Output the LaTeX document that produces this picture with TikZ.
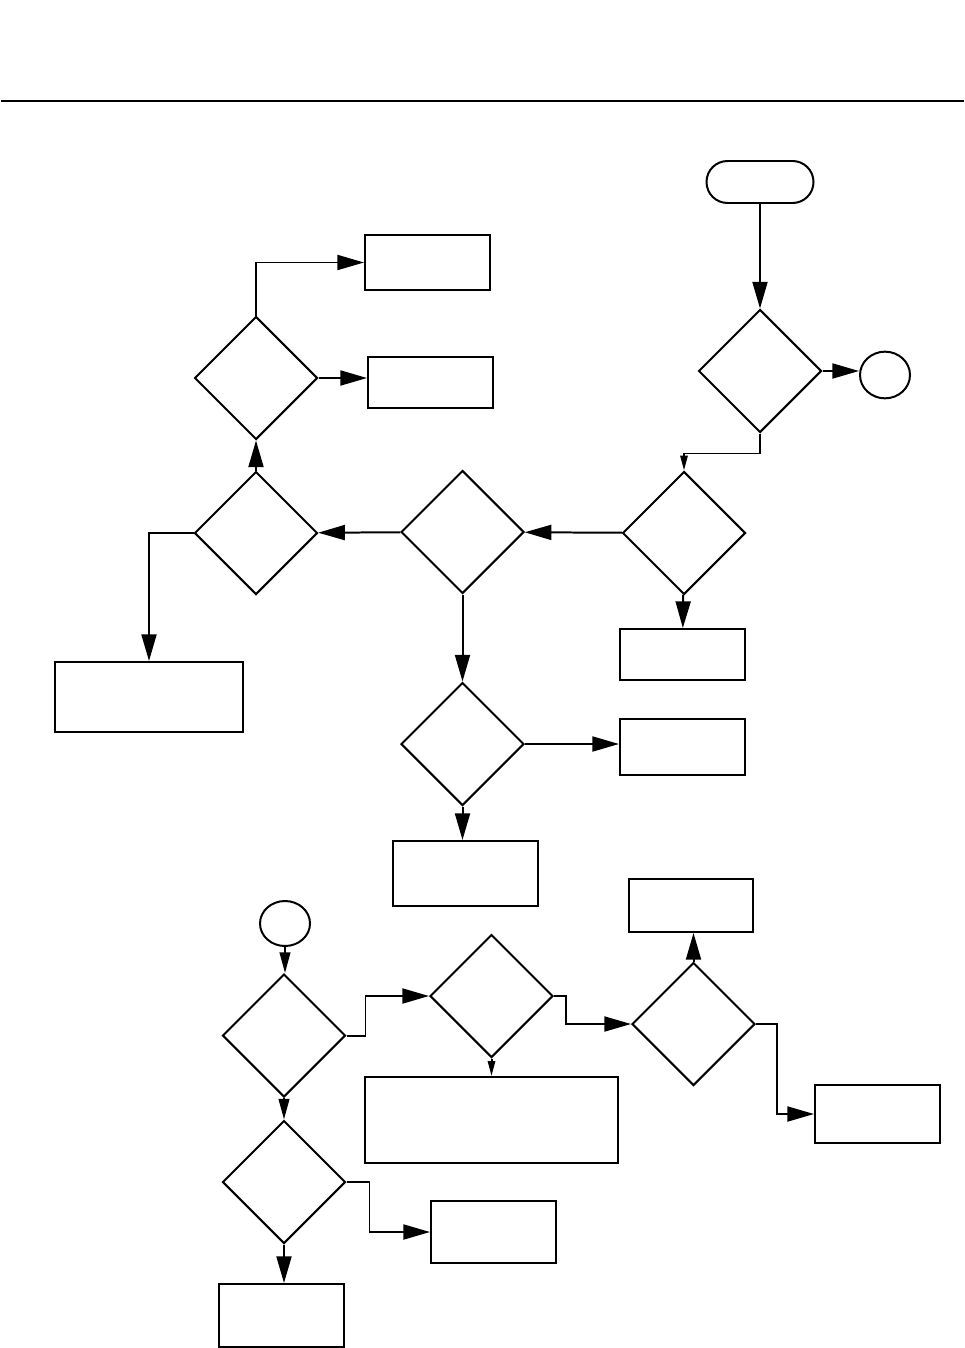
\documentclass[tikz,border=0pt]{standalone}
\usepackage{tikz}
\usetikzlibrary{shapes.geometric, arrows.meta}

\begin{document}
\begin{tikzpicture}
  [
    x = 0.03cm, y = -0.03cm, line width = 1.7pt,
    every node/.style = {draw, inner sep = 0pt},
    decision/.style = {diamond, minimum width = 3.69cm, minimum height = 3.69cm},
    process/.style = {rectangle, minimum width = 3.75cm},
    terminal/.style = {rectangle, rounded corners = 0.63cm, minimum width = 3.21cm, minimum height = 1.26cm},
    connector/.style = {ellipse, minimum width = 1.5cm, minimum height = 1.4cm},
    arr/.style = {-{Triangle[length = 0.8cm, width = 0.45cm]}},
    arrm/.style = {-{Triangle[length = 0.62cm, width = 0.32cm]}},
    arrs/.style = {-{Triangle[length = 0.45cm, width = 0.22cm]}}
  ]
  \useasboundingbox (0,0) rectangle (965,1348);
  \draw (1,101) -- (964,101);  % header rule

  % upper part
  \node (Start) at (760,182) [terminal] {};
  \node (D1) at (760,371) [decision] {};
  \node (C1) at (885,375) [connector] {};
  \node (D2) at (684,533) [decision] {};
  \node (D3) at (462.5,532) [decision] {};
  \node (D4) at (462.5,744) [decision] {};
  \node (D5) at (256,533) [decision] {};
  \node (D6) at (256,378) [decision] {};
  \node (P1) at (427.5,262.5) [process, minimum height = 1.65cm] {};
  \node (P2) at (430.5,382.5) [process, minimum height = 1.53cm] {};
  \node (P3) at (149,697) [process, minimum width = 5.64cm, minimum height = 2.1cm] {};
  \node (P4) at (682.5,654.5) [process, minimum height = 1.53cm] {};
  \node (P5) at (682.5,747) [process, minimum height = 1.68cm] {};
  \node (P6) at (465.5,873.5) [process, minimum width = 4.35cm, minimum height = 1.95cm] {};

  \draw [arr] (Start) -- (D1);
  \draw [arr] (D1.east) -- (D1.east -| C1.west);
  \draw [arrs] (D1.south) -- ++(0,20) -| (D2.north);
  \draw [arr] (D2) -- (P4);
  \draw [arr] (D2) -- (D3);
  \draw [arr] (D3) -- (D4);
  \draw [arr] (D4.east) -- (D4.east -| P5.west);
  \draw [arr] (D4.south) -- (D4.south |- P6.north);
  \draw [arr] (D3) -- (D5);
  \draw [arr] (D5.west) -| (P3.north);
  \draw [arr] (D5) -- (D6);
  \draw [arr] (D6.east) -- (D6.east -| P2.west);
  \draw [arr] (D6.north) |- (P1.west);

  % lower part
  \node (C2) at (285,923.5) [connector, minimum height = 1.35cm] {};
  \node (D7) at (284,1035.5) [decision] {};
  \node (D8) at (491.5,996) [decision] {};
  \node (D9) at (693.5,1024) [decision] {};
  \node (D10) at (284,1182) [decision] {};
  \node (P7) at (491.5,1120) [process, minimum width = 7.59cm, minimum height = 2.58cm] {};
  \node (P8) at (691,905.5) [process, minimum width = 3.72cm, minimum height = 1.59cm] {};
  \node (P9) at (877.5,1114) [process, minimum height = 1.74cm] {};
  \node (P10) at (493.5,1232) [process, minimum height = 1.86cm] {};
  \node (P11) at (281.5,1315.5) [process, minimum height = 1.89cm] {};

  \draw [arrm] (C2.south) -- (C2.south |- D7.north);
  \draw [arr] (D7.east) -- ++(19,0) |- (D8.west);
  \draw [arrs] (D8) -- (P7);
  \draw [arr] (D8.east) -- ++(12,0) |- (D9.west);
  \draw [arr] (D9.north) -- (D9.north |- P8.south);
  \draw [arr] (D9.east) -- ++(21,0) |- (P9.west);
  \draw [arrm] (D7) -- (D10);
  \draw [arr] (D10.east) -- ++(23,0) |- (P10.west);
  \draw [arr] (D10.south) -- (D10.south |- P11.north);
\end{tikzpicture}
\end{document}
